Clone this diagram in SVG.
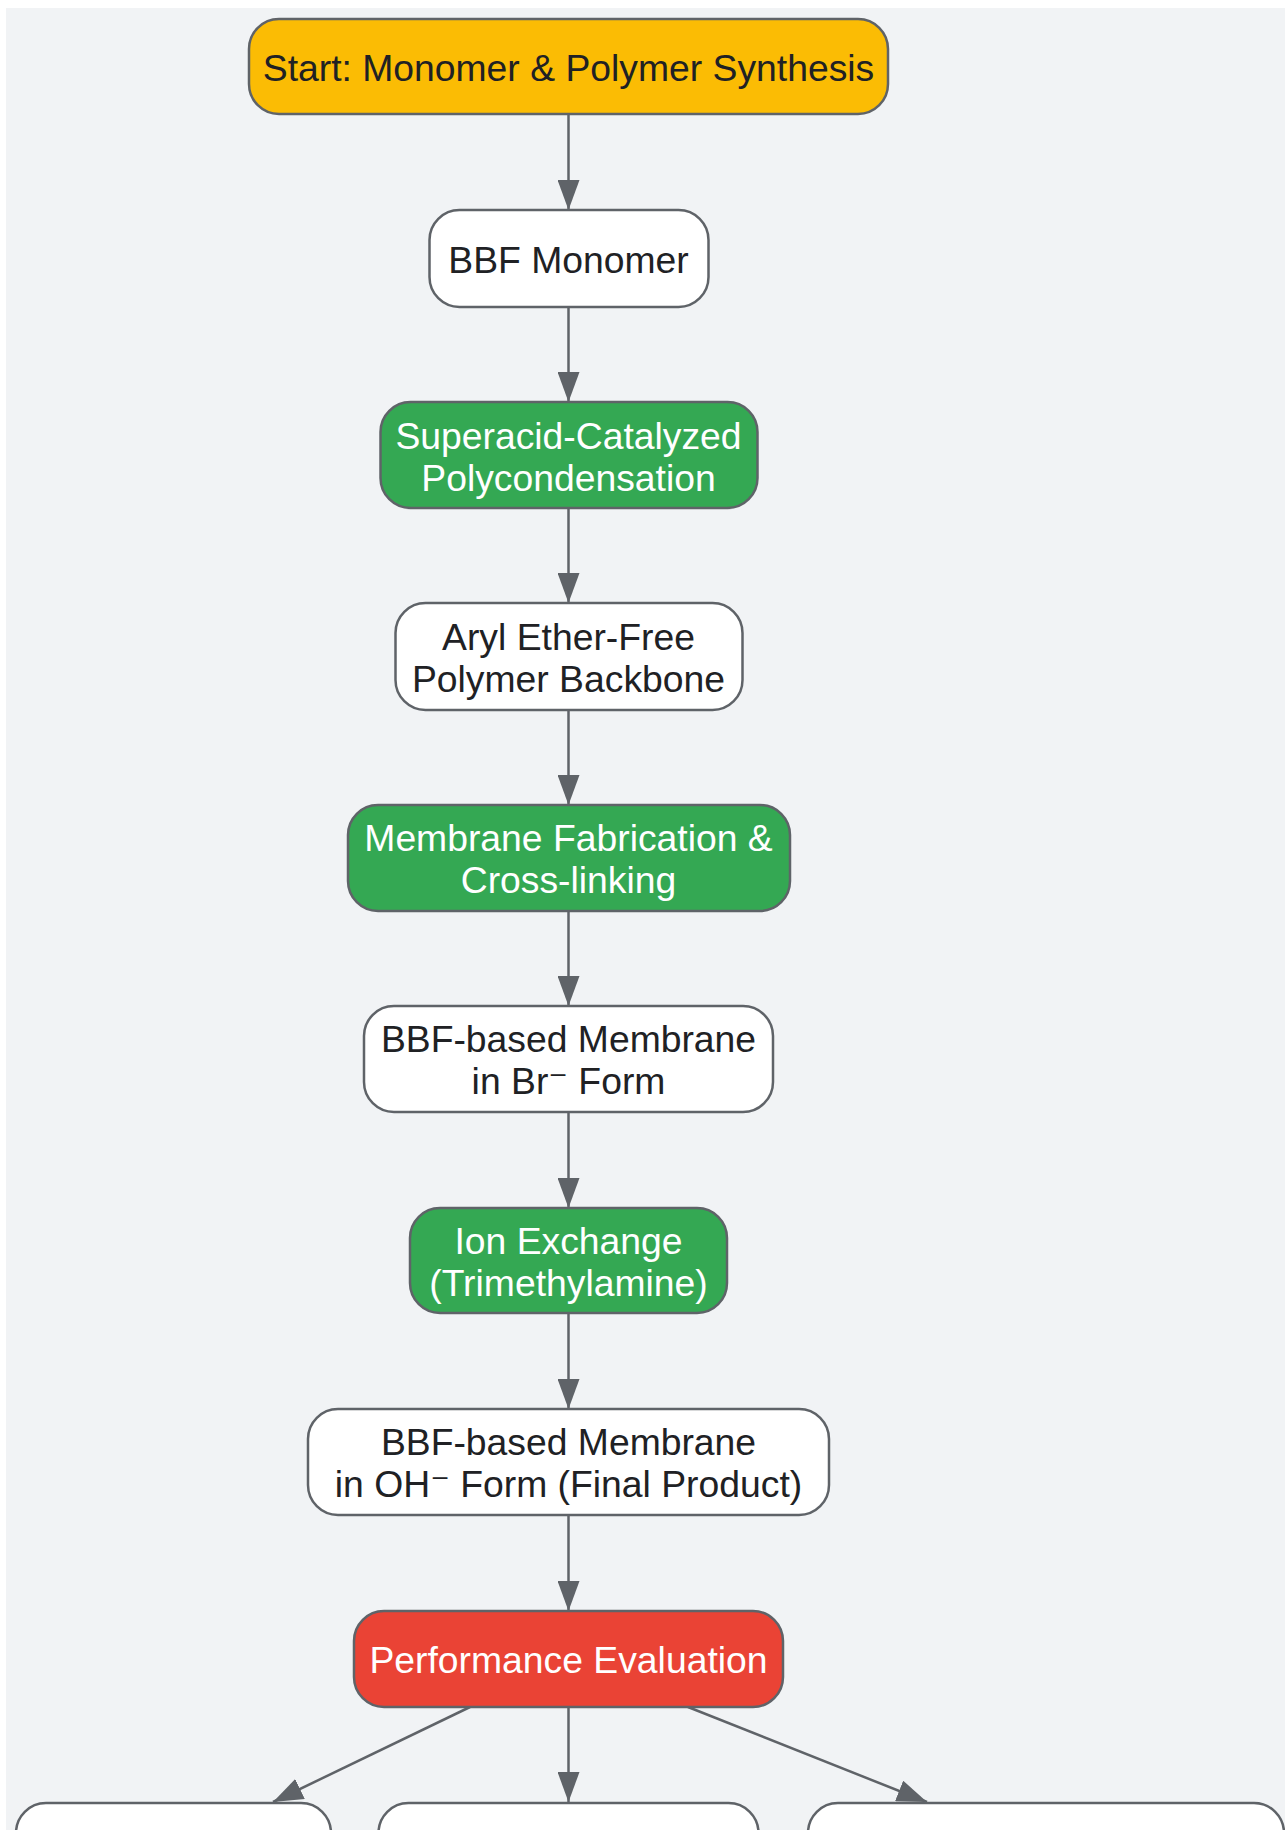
<svg xmlns="http://www.w3.org/2000/svg" width="1285" height="1830" viewBox="0 0 1285 1830">
<style>
.n{stroke:#5f6368;stroke-width:2.5}
.w{fill:#ffffff}
.g{fill:#34a853}
.r{fill:#ea4335}
.y{fill:#fbbc04}
text{font-family:"Liberation Sans",Arial,sans-serif;font-size:37.3px;text-anchor:middle}
.sup{font-family:"DejaVu Sans",sans-serif}
.dk{fill:#202124}
.lt{fill:#ffffff}
.e{stroke:#5f6368;stroke-width:2.5;fill:none}
</style>
<defs>
<marker id="ah" markerWidth="30" markerHeight="22" refX="30" refY="11" orient="auto" markerUnits="userSpaceOnUse">
<path d="M0,0 L30,11 L0,22 Z" fill="#5f6368"/>
</marker>
</defs>
<rect x="0" y="0" width="1285" height="1830" fill="#ffffff"/>
<rect x="6" y="8" width="1279" height="1822" fill="#f1f3f5"/>
<g id="connectors">
<line class="e" x1="568.5" y1="114" x2="568.5" y2="210" marker-end="url(#ah)"/>
<line class="e" x1="568.5" y1="307" x2="568.5" y2="402" marker-end="url(#ah)"/>
<line class="e" x1="568.5" y1="508" x2="568.5" y2="603" marker-end="url(#ah)"/>
<line class="e" x1="568.5" y1="710" x2="568.5" y2="805" marker-end="url(#ah)"/>
<line class="e" x1="568.5" y1="911" x2="568.5" y2="1006" marker-end="url(#ah)"/>
<line class="e" x1="568.5" y1="1112" x2="568.5" y2="1208" marker-end="url(#ah)"/>
<line class="e" x1="568.5" y1="1313" x2="568.5" y2="1409" marker-end="url(#ah)"/>
<line class="e" x1="568.5" y1="1515" x2="568.5" y2="1611" marker-end="url(#ah)"/>
<line class="e" x1="470" y1="1707" x2="273" y2="1802" marker-end="url(#ah)"/>
<line class="e" x1="568.5" y1="1707" x2="568.5" y2="1802" marker-end="url(#ah)"/>
<line class="e" x1="688" y1="1707" x2="927" y2="1802" marker-end="url(#ah)"/>
</g>
<g id="start">
<rect class="n y" x="249" y="19" width="639" height="95" rx="30"/>
<text class="dk" x="568.5" y="80.5">Start: Monomer &amp; Polymer Synthesis</text>
</g>
<g id="bbf-monomer">
<rect class="n w" x="429.5" y="210" width="279" height="97" rx="30"/>
<text class="dk" x="568.5" y="272.5">BBF Monomer</text>
</g>
<g id="polycondensation">
<rect class="n g" x="380.5" y="402" width="377" height="106" rx="30"/>
<text class="lt" x="568.5" y="448.5">Superacid-Catalyzed</text>
<text class="lt" x="568.5" y="490.5">Polycondensation</text>
</g>
<g id="backbone">
<rect class="n w" x="395.5" y="603" width="347" height="107" rx="30"/>
<text class="dk" x="568.5" y="650">Aryl Ether-Free</text>
<text class="dk" x="568.5" y="692">Polymer Backbone</text>
</g>
<g id="fabrication">
<rect class="n g" x="348" y="805" width="442" height="106" rx="30"/>
<text class="lt" x="568.5" y="851">Membrane Fabrication &amp;</text>
<text class="lt" x="568.5" y="893">Cross-linking</text>
</g>
<g id="br-form">
<rect class="n w" x="364" y="1006" width="409" height="106" rx="30"/>
<text class="dk" x="568.5" y="1052">BBF-based Membrane</text>
<text class="dk" x="568.5" y="1094">in Br<tspan class="sup">⁻</tspan> Form</text>
</g>
<g id="ion-exchange">
<rect class="n g" x="410" y="1208" width="317" height="105" rx="30"/>
<text class="lt" x="568.5" y="1254">Ion Exchange</text>
<text class="lt" x="568.5" y="1296">(Trimethylamine)</text>
</g>
<g id="oh-form">
<rect class="n w" x="308" y="1409" width="521" height="106" rx="30"/>
<text class="dk" x="568.5" y="1455">BBF-based Membrane</text>
<text class="dk" x="568.5" y="1497">in OH<tspan class="sup">⁻</tspan> Form (Final Product)</text>
</g>
<g id="performance">
<rect class="n r" x="354" y="1611" width="429" height="96" rx="30"/>
<text class="lt" x="568.5" y="1672.5">Performance Evaluation</text>
</g>
<g id="eval-left">
<rect class="n w" x="16" y="1803" width="315" height="110" rx="30"/>
</g>
<g id="eval-middle">
<rect class="n w" x="378.5" y="1803" width="380" height="110" rx="30"/>
</g>
<g id="eval-right">
<rect class="n w" x="808" y="1803" width="476" height="110" rx="30"/>
</g>
</svg>
